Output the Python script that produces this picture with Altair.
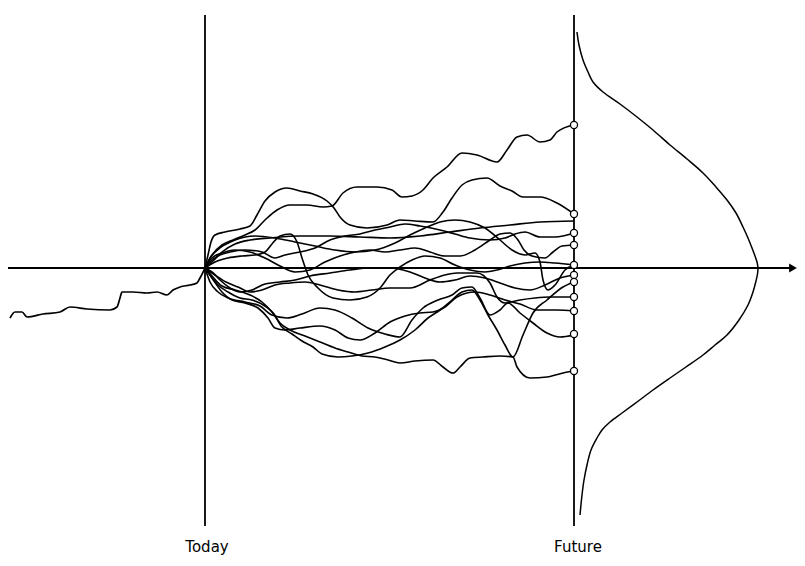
import altair as alt
import pandas as pd

# Reference positions (image units: x to the right, y downward)
TODAY_X = 205
FUTURE_X = 574
AXIS_Y = 268

# Historical path (left of "Today")
past = [(10,318),(15,312),(22,312),(27,317),(43,314),(60,312),(70,307),(87,309),(110,310),
        (117,307),(120,298),(122,292),(133,292),(147,293),(157,292),(167,295),(173,290),
        (180,287),(190,285),(197,283),(200,278),(205,268)]

# Simulated future paths
path_01 = [(205,268),(212,255),(222,245),(233,240),(245,235),(255,230),(265,220),(277,210),(290,205),
           (307,205),(323,207),(332,206),(343,193),(357,187),(377,187),(392,190),(402,197),(412,196),
           (423,190),(433,178),(447,167),(462,153),(477,155),(497,162),(507,150),(517,137),(527,135),
           (540,142),(550,140),(557,132),(574,125)]
path_02 = [(205,268),(208,255),(211,242),(215,235),(225,232),(240,229),(250,226),(257,215),(265,201),
           (275,192),(287,188),(300,191),(313,194),(327,201),(334,208),(340,217),(350,225),(367,228),
           (387,225),(400,220),(415,221),(433,222),(443,212),(452,198),(462,185),(472,180),(487,178),
           (500,186),(512,191),(523,197),(540,197),(557,203),(574,214)]
path_03 = [(205,268),(212,262),(222,252),(235,244),(250,240),(270,238),(300,236),(330,236),(360,237),
           (390,238),(420,236),(450,232),(480,228),(510,225),(540,222),(574,221)]
path_04 = [(205,268),(210,262),(218,256),(230,252),(245,250),(262,252),(275,258),(285,255),(300,252),
           (315,248),(330,240),(345,236),(360,234),(375,230),(390,227),(405,224),(420,226),(440,230),
           (455,234),(470,238),(490,240),(505,238),(515,234),(525,232),(540,237),(555,237),(574,233)]
path_05 = [(205,268),(212,258),(222,253),(235,250),(250,252),(265,258),(280,266),(295,272),(310,270),
           (325,262),(340,256),(355,252),(370,250),(385,252),(400,250),(415,248),(430,252),(445,256),
           (460,256),(475,250),(490,240),(500,234),(510,233),(518,240),(524,250),(532,256),(545,258),
           (553,252),(562,246),(574,245)]
path_06 = [(205,268),(215,262),(228,258),(242,256),(255,255),(265,252),(272,244),(280,236),(290,234),
           (297,242),(302,258),(308,275),(318,288),(333,298),(350,300),(367,297),(380,288),(390,275),
           (400,267),(412,260),(425,256),(440,258),(455,265),(470,270),(485,272),(497,270),(510,266),
           (525,263),(540,262),(555,263),(574,265)]
path_07 = [(205,268),(212,272),(220,280),(230,288),(240,292),(252,290),(265,284),(280,282),(295,280),
           (310,276),(330,273),(350,270),(370,268),(390,268),(410,272),(425,278),(440,282),(455,280),
           (470,276),(485,278),(500,283),(515,288),(530,290),(545,285),(560,278),(574,275)]
path_08 = [(205,268),(210,275),(218,285),(228,292),(240,298),(252,300),(265,306),(274,314),(281,326),
           (292,334),(302,341),(313,347),(322,354),(338,357),(352,356),(368,353),(385,347),(400,340),
           (415,330),(428,318),(440,310),(452,300),(462,292),(472,290),(480,300),(488,315),(497,330),
           (505,345),(513,357),(523,335),(533,313),(547,300),(563,287),(574,282)]
path_09 = [(205,268),(215,275),(226,282),(238,287),(250,292),(262,290),(275,285),(290,283),(305,282),
           (320,285),(338,290),(355,292),(372,290),(390,288),(410,288),(430,280),(445,275),(457,273),
           (477,273),(490,283),(497,297),(505,303),(520,300),(535,298),(550,297),(574,297)]
path_10 = [(205,268),(212,278),(222,292),(232,300),(245,303),(258,308),(268,318),(275,328),(285,330),
           (300,328),(320,326),(335,330),(348,338),(360,340),(375,333),(390,322),(405,316),(420,313),
           (433,312),(445,307),(457,297),(475,292),(490,295),(505,300),(520,304),(537,310),(557,310),
           (574,311)]
path_11 = [(205,268),(210,282),(218,292),(228,298),(245,302),(260,306),(272,315),(287,318),(302,314),
           (320,308),(335,310),(352,318),(368,328),(385,334),(400,337),(412,320),(423,308),(438,300),
           (452,295),(462,288),(472,287),(480,298),(490,315),(500,310),(508,303),(520,313),(533,323),
           (547,333),(560,337),(574,335)]
path_12 = [(205,268),(212,276),(222,286),(235,290),(250,295),(262,302),(272,312),(280,323),(290,330),
           (305,336),(320,342),(335,348),(348,352),(362,356),(375,357),(388,360),(400,363),(415,361),
           (433,360),(443,367),(453,373),(460,367),(470,358),(483,357),(500,356),(513,357),(517,367),
           (530,378),(547,377),(563,373),(574,371)]
path_13 = [(205,268),(210,258),(220,248),(235,240),(255,236),(275,238),(295,242),(315,246),(335,250),
           (355,252),(375,250),(395,243),(410,235),(425,228),(440,222),(455,220),(470,222),(485,228),
           (500,240),(512,250),(525,255),(535,253),(540,262),(543,280),(548,290),(555,285),(565,270),
           (574,265)]
paths = [path_01, path_02, path_03, path_04, path_05, path_06, path_07,
         path_08, path_09, path_10, path_11, path_12, path_13]

# End-of-horizon outcomes (circles on the "Future" line)
end_levels = [125, 214, 233, 245, 265, 275, 282, 297, 311, 334, 371]

# Distribution curve drawn to the right of the "Future" line
curve = [(577,32),(579,45),(583,60),(588,72),(593,82),(603,92),(620,104),(637,117),(653,130),
         (670,145),(687,159),(703,173),(716,187),(727,200),(736,213),(743,227),(748,238),(752,248),
         (755,256),(757,262),(758,268),(757.5,274),(756,281),(753,292),(748,305),(739,320),(727,335),
         (715,345),(703,355),(686,367),(670,378),(653,390),(637,402),(622,413),(610,422),(602,430),
         (597,438),(591,450),(587,465),(584,480),(582,495),(580,515)]

labels = ["Today", "Future"]
label_x = [207, 578]
label_y = 552

def t(x):
    return x - TODAY_X

def v(y):
    return AXIS_Y - y

xs = alt.Scale(domain=[t(8), t(797)], nice=False, zero=False)
ys = alt.Scale(domain=[v(558), v(8)], nice=False, zero=False)

rows = []
for i, p in enumerate(paths):
    for j, (x, y) in enumerate(p):
        rows.append({"path": f"p{i+1:02d}", "i": j, "t": t(x), "v": v(y)})
df_paths = pd.DataFrame(rows)
df_past = pd.DataFrame([{"i": j, "t": t(x), "v": v(y)} for j, (x, y) in enumerate(past)])
df_curve = pd.DataFrame([{"i": j, "t": t(x), "v": v(y)} for j, (x, y) in enumerate(curve)])
df_ends = pd.DataFrame({"t": [t(FUTURE_X)] * len(end_levels), "v": [v(y) for y in end_levels]})
df_vrules = pd.DataFrame({"t": [t(TODAY_X), t(FUTURE_X)], "v1": [v(15), v(15)], "v2": [v(526), v(526)]})
df_hrule = pd.DataFrame({"t1": [t(8)], "t2": [t(794)], "v": [0]})
df_arrow = pd.DataFrame({"t": [t(793)], "v": [0]})
df_labels = pd.DataFrame({"label": labels, "t": [t(x) for x in label_x], "v": [v(label_y)] * 2})

base_x = alt.X("t:Q", scale=xs, axis=None)
base_y = alt.Y("v:Q", scale=ys, axis=None)

vrules = alt.Chart(df_vrules).mark_rule(color="black", strokeWidth=1.8).encode(
    x=base_x, y=alt.Y("v1:Q", scale=ys, axis=None), y2="v2:Q")
hrule = alt.Chart(df_hrule).mark_rule(color="black", strokeWidth=2.2).encode(
    x=alt.X("t1:Q", scale=xs, axis=None), x2="t2:Q", y=base_y)
arrow = alt.Chart(df_arrow).mark_point(shape="triangle-right", filled=True, color="black",
                                       size=80, opacity=1).encode(x=base_x, y=base_y)
past_line = alt.Chart(df_past).mark_line(color="black", strokeWidth=1.7, interpolate="monotone").encode(
    x=base_x, y=base_y, order="i:Q")
path_lines = alt.Chart(df_paths).mark_line(color="black", strokeWidth=1.6, interpolate="monotone").encode(
    x=base_x, y=base_y, detail="path:N", order="i:Q")
curve_line = alt.Chart(df_curve).mark_line(color="black", strokeWidth=1.5, interpolate="catmull-rom").encode(
    x=base_x, y=base_y, order="i:Q")
circles = alt.Chart(df_ends).mark_point(shape="circle", filled=True, fill="white", stroke="black",
                                        strokeWidth=1.3, size=50, opacity=1).encode(x=base_x, y=base_y)
texts = alt.Chart(df_labels).mark_text(font="DejaVu Sans", fontSize=15, color="black",
                                       baseline="alphabetic", align="center").encode(
    x=base_x, y=base_y, text="label:N")

chart = alt.layer(vrules, hrule, arrow, past_line, path_lines, curve_line, circles, texts).properties(
    width=789, height=550, padding=0,
    autosize=alt.AutoSizeParams(type="none"),
    background="white",
).configure_view(stroke=None)

chart.save("out.html", embed_options={"renderer": "svg", "actions": False})
